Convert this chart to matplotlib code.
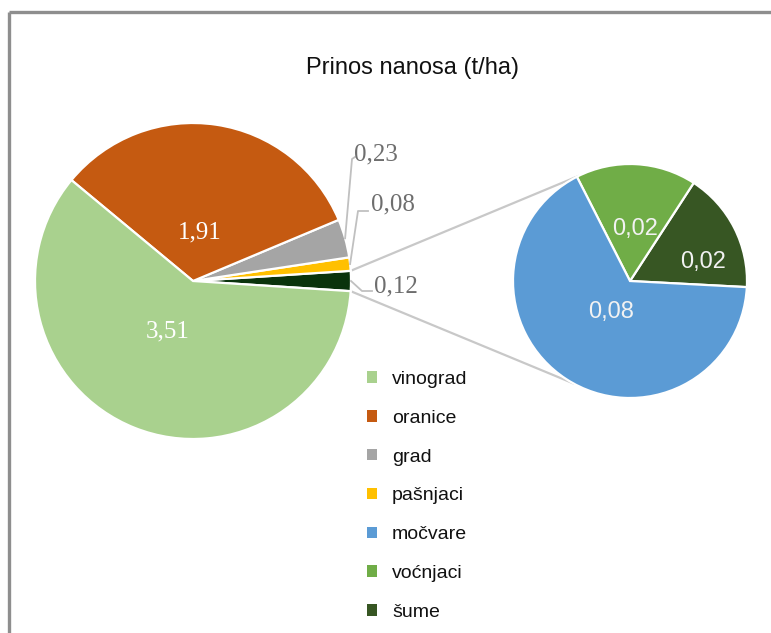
import numpy as np
import matplotlib
matplotlib.use("Agg")
import matplotlib.pyplot as plt
from matplotlib.patches import Patch
from matplotlib import font_manager

# ---------------- data ----------------
title = "Prinos nanosa (t/ha)"
main_names = ["vinograd", "oranice", "grad", "pašnjaci"]
main_values = [3.51, 1.91, 0.23, 0.08]
sub_names = ["močvare", "voćnjaci", "šume"]
sub_values = [0.08, 0.02, 0.02]

main_colors = ["#A9D18E", "#C55A11", "#A5A5A5", "#FFC000"]
other_color = "#0A330C"
sub_colors = ["#5B9BD5", "#70AD47", "#375623"]

def fmt(v):
    return f"{v:.2f}".replace(".", ",")

W, H = 771, 633
fig = plt.figure(figsize=(W / 100, H / 100), dpi=100)
ax = fig.add_axes([0, 0, 1, 1])

def Y(y):
    return H - y

installed = {f.name for f in font_manager.fontManager.ttflist}
narrow = "Liberation Sans Narrow" in installed

# ---------------- main pie ----------------
other_value = sum(sub_values)
pie_vals = [other_value, main_values[3], main_values[2], main_values[1], main_values[0]]
pie_cols = [other_color, main_colors[3], main_colors[2], main_colors[1], main_colors[0]]
total = sum(pie_vals)
start = -other_value / total * 360 / 2
c1 = (193, Y(281))
R1 = 158
w1, _ = ax.pie(pie_vals, colors=pie_cols, startangle=start, counterclock=True,
               center=c1, radius=R1,
               wedgeprops=dict(edgecolor="white", linewidth=1.6))

# ---------------- sub pie ----------------
sub_order = [sub_values[2], sub_values[1], sub_values[0]]
sub_cols = [sub_colors[2], sub_colors[1], sub_colors[0]]
c2 = (630, Y(281))
R2 = 117
w2, _ = ax.pie(sub_order, colors=sub_cols, startangle=-3, counterclock=True,
               center=c2, radius=R2,
               wedgeprops=dict(edgecolor="white", linewidth=1.6))

# ---------------- connector lines ----------------
a_other = np.deg2rad(other_value / total * 360 / 2)
p_up = (c1[0] + R1 * np.cos(a_other), c1[1] + R1 * np.sin(a_other))
p_dn = (c1[0] + R1 * np.cos(-a_other), c1[1] + R1 * np.sin(-a_other))
t_up = np.deg2rad(180 - 63.5)
t_dn = np.deg2rad(180 + 61)
q_up = (c2[0] + R2 * np.cos(t_up), c2[1] + R2 * np.sin(t_up))
q_dn = (c2[0] + R2 * np.cos(t_dn), c2[1] + R2 * np.sin(t_dn))
ax.plot([p_up[0], q_up[0]], [p_up[1], q_up[1]], color="#C8C8C8", lw=1.6, zorder=0)
ax.plot([p_dn[0], q_dn[0]], [p_dn[1], q_dn[1]], color="#C8C8C8", lw=1.6, zorder=0)

# ---------------- labels ----------------
serif = ["Liberation Serif", "DejaVu Serif"]
sans = ["Liberation Sans", "DejaVu Sans"]
leg_family = ["Liberation Sans Narrow", "Liberation Sans"] if narrow else sans
leg_size = 15.5 if narrow else 14

ax.text(200, Y(232), fmt(main_values[1]), color="white", fontsize=18,
        family=serif, ha="center", va="center")
ax.text(168, Y(331), fmt(main_values[0]), color="white", fontsize=18,
        family=serif, ha="center", va="center")

def mid_edge(w, r):
    th = np.deg2rad((w.theta1 + w.theta2) / 2)
    return (c1[0] + r * np.cos(th), c1[1] + r * np.sin(th))

lead_col = "#C0C0C0"
txt_col = "#6E6E6E"
# grad
e = mid_edge(w1[2], R1)
ax.plot([e[0], 352, 355], [e[1], Y(159), Y(157)], color=lead_col, lw=1.3)
ax.text(376, Y(154), fmt(main_values[2]), color=txt_col, fontsize=18,
        family=serif, ha="center", va="center")
# pasnjaci
e = mid_edge(w1[1], R1)
ax.plot([e[0], 358, 368], [e[1], Y(211), Y(211)], color=lead_col, lw=1.3)
ax.text(393, Y(204), fmt(main_values[3]), color=txt_col, fontsize=18,
        family=serif, ha="center", va="center")
# other
e = mid_edge(w1[0], R1)
ax.plot([e[0], 362, 372], [e[1], Y(291), Y(291)], color=lead_col, lw=1.3)
ax.text(396, Y(286), fmt(other_value), color=txt_col, fontsize=18,
        family=serif, ha="center", va="center")

# sub pie labels
ax.text(635, Y(229), fmt(sub_values[1]), color="#F2F2F2", fontsize=17,
        family=sans, ha="center", va="center")
ax.text(703, Y(262), fmt(sub_values[2]), color="#F2F2F2", fontsize=17,
        family=sans, ha="center", va="center")
ax.text(611, Y(312), fmt(sub_values[0]), color="#F2F2F2", fontsize=17,
        family=sans, ha="center", va="center")

# ---------------- title ----------------
ax.text(413, Y(68), title, fontsize=17, family=sans, ha="center", va="center",
        color="#111111")

# ---------------- legend ----------------
names = main_names + sub_names
cols = main_colors + sub_colors
handles = [Patch(facecolor=c, edgecolor="none", label=n) for n, c in zip(names, cols)]
fs_px = leg_size * 100 / 72
leg = ax.legend(handles=handles, loc="upper left", bbox_to_anchor=(367, Y(371)),
                bbox_transform=ax.transData, frameon=False, borderpad=0,
                borderaxespad=0, handlelength=10 / fs_px, handleheight=10 / fs_px,
                handletextpad=15 / fs_px, labelspacing=21.8 / fs_px,
                prop=dict(family=leg_family, size=leg_size))
for t in leg.get_texts():
    t.set_color("#111111")

# ---------------- frame ----------------
ax.plot([9, 9], [0, Y(12)], color="#8E8E8E", lw=2.4, solid_capstyle="butt")
ax.plot([9, W], [Y(12), Y(12)], color="#8E8E8E", lw=2.4, solid_capstyle="butt")

ax.set_xlim(0, W)
ax.set_ylim(0, H)
ax.set_aspect("equal")
ax.axis("off")

fig.savefig("out.png", dpi=100)
